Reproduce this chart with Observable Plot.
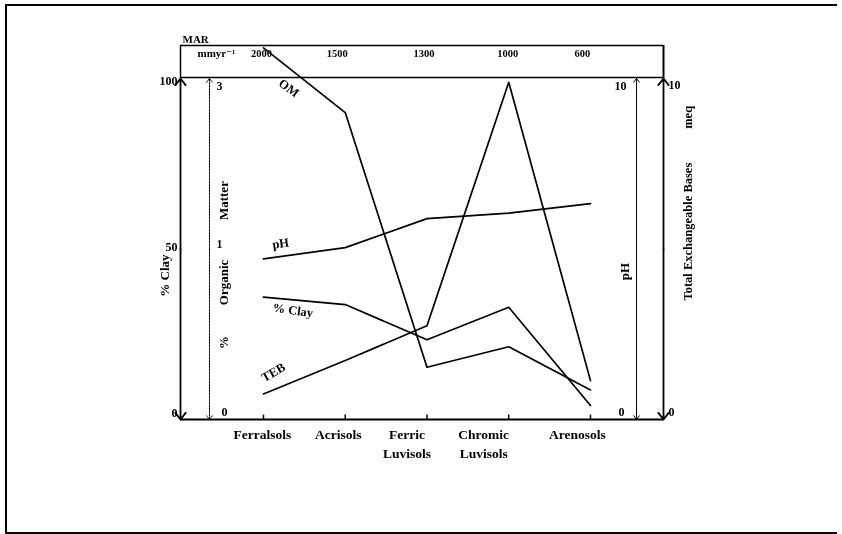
<!DOCTYPE html>
<html><head><meta charset="utf-8">
<script src="https://cdn.jsdelivr.net/npm/d3@7"></script>
<script src="https://cdn.jsdelivr.net/npm/@observablehq/plot@0.6"></script>
<style>
body{margin:0;background:#fff;}
#wrap{position:relative;width:842px;height:534px;overflow:hidden;background:#fff;}
#wrap svg{position:absolute;left:0;top:0;will-change:transform;-webkit-font-smoothing:antialiased;}
#border{position:absolute;left:5px;top:4px;width:830px;height:526px;border-left:2px solid #000;border-top:2px solid #000;border-bottom:2px solid #000;pointer-events:none;}
</style></head><body><div id="wrap"><div id="border"></div></div>
<script>
// ---- data ----
const soils = ["Ferralsols", "Acrisols", "Ferric\nLuvisols", "Chromic\nLuvisols", "Arenosols"];
const marValues = ["2000", "1500", "1300", "1000", "600"];
const clayPct = [35.9, 33.7, 23.4, 32.9, 4.1];        // % Clay (0-100)
const organicMatter = [3.27, 2.70, 0.46, 0.64, 0.26];  // % OM (0-3)
const pHValues = [4.71, 5.04, 5.89, 6.05, 6.33];        // pH (0-10)
const tebValues = [0.75, 1.73, 2.75, 9.89, 1.14];       // TEB meq (0-10)
const axisMax = {clay: 100, om: 3, ph: 10, teb: 10};
const seriesNames = ["clay", "om", "ph", "teb"];
const seriesLabels = ["% Clay", "OM", "pH", "TEB"];
const clayTicks = [100, 50, 0];
const omTicks = [3, 1, 0];        // "1" printed at the mid-height of the OM axis
const omTickLevel = [100, 50, 0];
const phTicks = [10, 0];
const tebTicks = [10, 0];

// ---- layout (scale units: x = category index, y = % of axis height) ----
const xL = -1.015, xR = 4.893, xOM = -0.66, xPH = 4.563;
const yBoxTop = 109.7, yMarText = 107.3;
const serif = "Liberation Serif, DejaVu Serif, serif";
const K = "#000";

const valuesBySeries = {clay: clayPct, om: organicMatter, ph: pHValues, teb: tebValues};
const rows = [];
seriesNames.forEach(s => valuesBySeries[s].forEach((v, i) => rows.push({series: s, i, v: v / axisMax[s] * 100})));

const labelPos = {
  "OM": {x: 0.31, y: 97.2, rotate: 36},
  "pH": {x: 0.21, y: 51.6, rotate: -8},
  "% Clay": {x: 0.36, y: 32.0, rotate: 8},
  "TEB": {x: 0.12, y: 13.8, rotate: -30}
};
const catDx = [-1, -7, -20, -25, -13];
const marDx = [-2, -8, -3, -1, -8];
const idx = soils.map((d, i) => i);

const T = (text, x, y, o = {}) => Plot.text([text], {x: () => x, y: () => y, text: d => String(d), fill: K, fontFamily: serif, fontSize: 12, ...o});
const N = {fontSize: 12, fontWeight: "bold"};

const arrowAxes = [
  {x: xL, w: 1.8, dash: null},
  {x: xOM, w: 1, dash: "2,1"},
  {x: xPH, w: 1, dash: null},
  {x: xR, w: 1.8, dash: null}
];
const arrowMarks = arrowAxes.flatMap(a => [
  Plot.arrow([a], {x1: "x", x2: "x", y1: () => 50, y2: () => 100, strokeWidth: a.w, strokeDasharray: a.dash, headLength: 7, headAngle: 75, stroke: K}),
  Plot.arrow([a], {x1: "x", x2: "x", y1: () => 50, y2: () => 0, strokeWidth: a.w, strokeDasharray: a.dash, headLength: 7, headAngle: 75, stroke: K})
]);

const chart = Plot.plot({
  width: 842, height: 534,
  marginLeft: 180, marginRight: 179, marginTop: 78, marginBottom: 115,
  x: {type: "linear", domain: [xL, xR], axis: null},
  y: {type: "linear", domain: [0, 100], axis: null},
  style: {background: "transparent"},
  marks: [
    Plot.ruleY([0], {x1: xL, x2: xR, strokeWidth: 2, stroke: K}),
    Plot.ruleY([100.3], {x1: xL, x2: xR, strokeWidth: 1.5, stroke: K}),
    Plot.ruleY([yBoxTop], {x1: xL, x2: xR, strokeWidth: 1.5, stroke: K}),
    Plot.ruleX([xL], {y1: 100, y2: yBoxTop, strokeWidth: 1.5, stroke: K}),
    Plot.ruleX([xR], {y1: 100, y2: yBoxTop, strokeWidth: 2, stroke: K}),
    Plot.ruleX(idx, {x: d => d, y1: 0, y2: 1.3, strokeWidth: 1.5, stroke: K}),
    ...arrowMarks,
    Plot.line(rows, {x: "i", y: "v", z: "series", stroke: K, strokeWidth: 1.7}),
    ...seriesLabels.map(l => T(l, labelPos[l].x, labelPos[l].y, {rotate: labelPos[l].rotate, fontSize: 12.5, fontWeight: "bold"})),
    ...idx.map(i => T(soils[i], i, 0, {dx: catDx[i], dy: 6, lineAnchor: "top", lineHeight: 1.4, fontSize: 13.5, fontWeight: "bold"})),
    ...idx.map(i => T(marValues[i], i, yMarText, {dx: marDx[i], fontSize: 10.5, fontWeight: "bold"})),
    T("MAR", xL, yBoxTop, {dx: 2, dy: -6, textAnchor: "start", fontSize: 11, fontWeight: "bold"}),
    T("mmyr\u207B\u00B9", xL, yMarText, {dx: 17, textAnchor: "start", fontSize: 11, fontWeight: "bold"}),
    T(clayTicks[0], xL, 100, {textAnchor: "end", dx: -3, dy: 3, ...N}),
    T(clayTicks[1], xL, 50, {textAnchor: "end", dx: -3, dy: -2, ...N}),
    T(clayTicks[2], xL, 0, {textAnchor: "end", dx: -3, dy: -6, ...N}),
    T("% Clay", xL, 42.2, {rotate: -90, dx: -16, fontSize: 13, fontWeight: "bold"}),
    T(omTicks[0], xOM, omTickLevel[0], {textAnchor: "start", dx: 7, dy: 8, ...N}),
    T(omTicks[1], xOM, omTickLevel[1], {textAnchor: "start", dx: 7, dy: -5, ...N}),
    T(omTicks[2], xOM, omTickLevel[2], {textAnchor: "start", dx: 12, dy: -7, ...N}),
    T("%", xOM, 22.6, {rotate: -90, dx: 14, fontSize: 13, fontWeight: "bold"}),
    T("Organic", xOM, 40.2, {rotate: -90, dx: 14, fontSize: 13, fontWeight: "bold"}),
    T("Matter", xOM, 64.2, {rotate: -90, dx: 14, fontSize: 13, fontWeight: "bold"}),
    T(phTicks[0], xPH, 100, {textAnchor: "end", dx: -10, dy: 8, ...N}),
    T(phTicks[1], xPH, 0, {textAnchor: "end", dx: -12, dy: -7, ...N}),
    T("pH", xPH, 43.4, {rotate: -90, dx: -12, fontSize: 13, fontWeight: "bold"}),
    T(tebTicks[0], xR, 100, {textAnchor: "start", dx: 5, dy: 7, ...N}),
    T(tebTicks[1], xR, 0, {textAnchor: "start", dx: 5, dy: -7, ...N}),
    T("Total Exchangeable Bases", xR, 55.1, {rotate: -90, dx: 24, fontSize: 12.5, fontWeight: "bold"}),
    T("meq", xR, 88.6, {rotate: -90, dx: 24, fontSize: 12.5, fontWeight: "bold"})
  ]
});
document.getElementById("wrap").prepend(chart);
</script>
</body></html>
